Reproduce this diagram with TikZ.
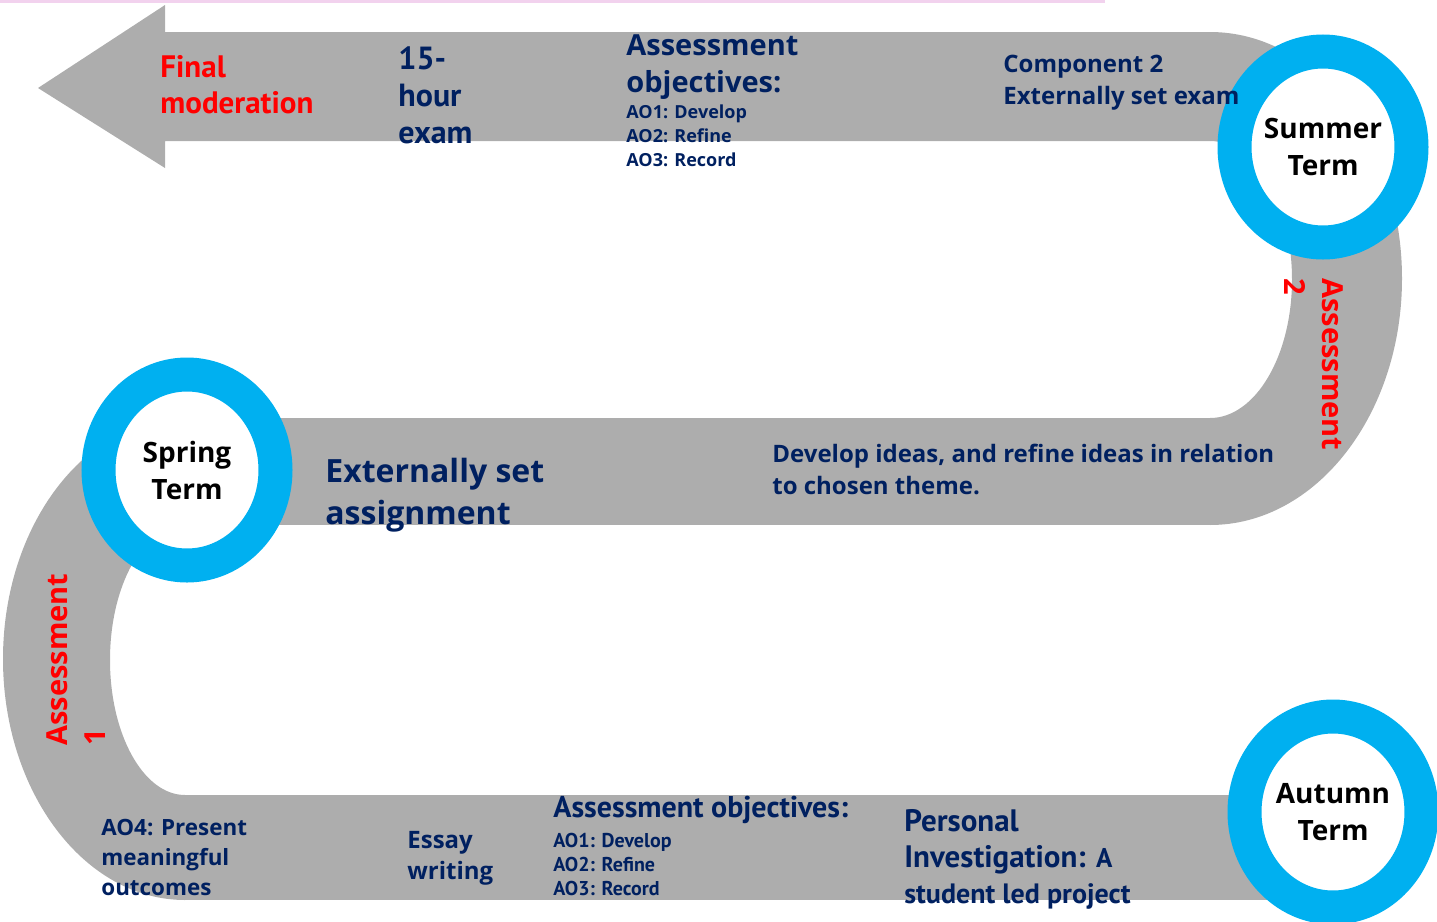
\documentclass[tikz,border=0pt]{standalone}
\usepackage{fontspec}
\setmainfont{Open Sans}
\newfontfamily\narrowfont{PT Sans}
\usetikzlibrary{shapes.geometric}

\definecolor{roadgrey}{HTML}{ADADAD}
\definecolor{termblue}{HTML}{00B0F0}
\definecolor{navy}{HTML}{002060}
\definecolor{pinkline}{HTML}{F2D2EE}

\tikzset{
    road/.style={fill=roadgrey},
    term/.style={ellipse, draw=termblue, line width=17pt, fill=white,
        minimum width=88.5pt, minimum height=95.5pt, inner sep=0pt,
        align=center, font=\bfseries\fontsize{14}{18.5}\selectfont},
    txt/.style={anchor=west, align=left, text=navy, inner sep=0pt},
    redtxt/.style={txt, text=red},
}

\begin{document}
\begin{tikzpicture}[x=0.5pt, y=-0.5pt]
    \useasboundingbox (0, 0) rectangle (1437, 922);
    \fill[pinkline] (0, 0) rectangle (1105, 3);

    % the road
    \fill[road] (38, 88) -- (165, 5) -- (165, 32) -- (1210, 32) -- (1210, 141)
        -- (165, 141) -- (165, 168) -- cycle;
    \fill[road] (1210, 32) arc[start angle=-90, end angle=90, x radius=192, y radius=246.5]
        -- (1210, 418) arc[start angle=90, end angle=-90, x radius=82, y radius=138.5] -- cycle;
    \fill[road] (185, 418) rectangle (1210, 525);
    \fill[road] (185, 418) arc[start angle=270, end angle=90, x radius=182, y radius=241]
        -- (185, 795) arc[start angle=90, end angle=270, x radius=75, y radius=135] -- cycle;
    \fill[road] (185, 795) rectangle (1300, 900);

    % terms
    \node[term] (summer) at (1323, 147) {Summer\\Term};
    \node[term] (spring) at (187, 470) {Spring\\Term};
    \node[term] (autumn) at (1333, 812) {Autumn\\Term};

    % top row
    \node[redtxt, font=\narrowfont\bfseries\fontsize{15.5}{18}\selectfont] (final) at (160, 85) {Final\\moderation};
    \node[txt, font=\narrowfont\bfseries\fontsize{16}{18.5}\selectfont] (exam) at (398, 95) {15-\\hour\\exam};
    \node[txt, font=\bfseries\fontsize{14.5}{18.5}\selectfont] (aotophead) at (626, 67) {Assessment\\objectives:};
    \node[txt, font=\bfseries\fontsize{9}{12}\selectfont] (aotoplist) at (626, 136) {AO1: Develop\\AO2: Refine\\AO3: Record};
    \node[txt, font=\bfseries\fontsize{12}{16}\selectfont] (comp) at (1003, 83) {Component 2\\Externally set exam};

    % middle row
    \node[redtxt, rotate=-90, anchor=north west, font=\bfseries\fontsize{14.5}{19}\selectfont] (assess2) at (1344, 278) {Assessment\\2};
    \node[txt, font=\bfseries\fontsize{16}{21}\selectfont] (esa) at (325, 495) {Externally set\\assignment};
    \node[txt, font=\bfseries\fontsize{12}{16}\selectfont] (develop) at (772, 469) {Develop ideas, and refine ideas in relation\\to chosen theme.};
    \node[redtxt, rotate=90, anchor=north west, font=\bfseries\fontsize{14.5}{19}\selectfont] (assess1) at (46, 746) {Assessment\\1};

    % bottom row
    \node[txt, font=\bfseries\fontsize{11.2}{15}\selectfont] (ao4) at (101, 857) {AO4: Present\\meaningful\\outcomes};
    \node[txt, font=\bfseries\fontsize{12}{15.5}\selectfont] (essay) at (407, 858) {Essay\\writing};
    \node[txt, font=\narrowfont\bfseries\fontsize{15}{16}\selectfont] (aobothead) at (553, 810) {Assessment objectives:};
    \node[txt, font=\narrowfont\bfseries\fontsize{10}{12}\selectfont] (aobotlist) at (553, 864) {AO1: Develop\\AO2: Refine\\AO3: Record};
    \node[txt, font=\narrowfont\bfseries\fontsize{15.5}{18}\selectfont] (personal) at (904, 859) {Personal\\Investigation: {\fontsize{13.5}{18}\selectfont A}\\{\fontsize{14}{17}\selectfont student led project}};
\end{tikzpicture}
\end{document}
